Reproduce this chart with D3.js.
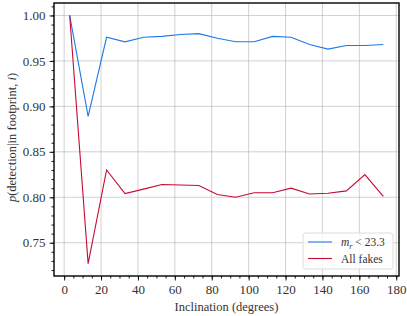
<!DOCTYPE html>
<html>
<head>
<meta charset="utf-8">
<script src="https://cdn.jsdelivr.net/npm/d3@7"></script>
<style>
  body { margin: 0; background: #fff; }
  #chart text, #chart tspan { font-family: "Liberation Serif", serif; }
</style>
</head>
<body>
<svg id="chart" width="407" height="316"></svg>
<script>
// inclination bins (degrees)
const inclination = [3, 13, 23, 33, 43, 53, 63, 73, 83, 93, 103, 113, 123, 133, 143, 153, 163, 173];

// m_r < 23.3
const brightFakes = [1.000, 0.889, 0.976, 0.971, 0.976, 0.977, 0.979, 0.980, 0.975, 0.971, 0.971, 0.977, 0.976, 0.968, 0.963, 0.967, 0.967, 0.968];

// all fakes
const allFakes = [1.000, 0.727, 0.830, 0.804, 0.809, 0.814, 0.8135, 0.813, 0.803, 0.800, 0.805, 0.805, 0.810, 0.8036, 0.8044, 0.807, 0.825, 0.801];

const xTicks = [0, 20, 40, 60, 80, 100, 120, 140, 160, 180];
const yTicks = [0.75, 0.80, 0.85, 0.90, 0.95, 1.00];

const margin = { top: 3, left: 54, right: 8, bottom: 40 };
const fullWidth = 407, fullHeight = 316;
const width = fullWidth - margin.left - margin.right;
const height = fullHeight - margin.top - margin.bottom;

const svg = d3.select("#chart");
const g = svg.append("g").attr("transform", `translate(${margin.left},${margin.top})`);

const x = d3.scaleLinear().domain([-5.5, 181.5]).range([0, width]);
const y = d3.scaleLinear().domain([0.7134, 1.0137]).range([height, 0]);

// grid
g.append("g").selectAll("line").data(xTicks.filter(t => x(t) < width))
  .join("line")
  .attr("x1", d => x(d)).attr("x2", d => x(d))
  .attr("y1", 0).attr("y2", height)
  .attr("stroke", "#b0b0b0").attr("stroke-opacity", 0.65).attr("stroke-width", 0.9);
g.append("g").selectAll("line").data(yTicks)
  .join("line")
  .attr("x1", 0).attr("x2", width)
  .attr("y1", d => y(d)).attr("y2", d => y(d))
  .attr("stroke", "#b0b0b0").attr("stroke-opacity", 0.65).attr("stroke-width", 0.9);

// lines
const line = (vals) => d3.line()
  .x((d, i) => x(inclination[i]))
  .y(d => y(d))(vals);

g.append("path").attr("d", line(brightFakes))
  .attr("fill", "none").attr("stroke", "#1f78e8").attr("stroke-width", 1.1);
g.append("path").attr("d", line(allFakes))
  .attr("fill", "none").attr("stroke", "#c80a32").attr("stroke-width", 1.1);

// axes, minor then major ticks
const xMinor = d3.range(0, 181, 5);
const yMinor = d3.range(72, 102, 1).map(v => v / 100).filter(v => y(v) >= 0 && y(v) <= height);

const xAxis = g.append("g").attr("transform", `translate(0,${height})`);
xAxis.call(d3.axisBottom(x).tickValues(xMinor).tickSize(2.5).tickFormat(""));
xAxis.append("g").call(d3.axisBottom(x).tickValues(xTicks).tickSize(4.5).tickPadding(4).tickFormat(d3.format("d")));

const yAxis = g.append("g");
yAxis.call(d3.axisLeft(y).tickValues(yMinor).tickSize(2.5).tickFormat(""));
yAxis.append("g").call(d3.axisLeft(y).tickValues(yTicks).tickSize(4.5).tickPadding(4).tickFormat(d3.format(".2f")));

g.selectAll(".domain").remove();
g.selectAll(".tick line").attr("stroke", "#000").attr("stroke-width", 0.9);
g.selectAll(".tick text").style("font-size", "13px").attr("fill", "#333");

// frame
g.append("rect").attr("x", 0).attr("y", 0).attr("width", width).attr("height", height)
  .attr("fill", "none").attr("stroke", "#000").attr("stroke-width", 1.4);

// axis labels
svg.append("text")
  .attr("x", margin.left + width / 2).attr("y", 311)
  .attr("text-anchor", "middle").style("font-size", "12.5px").attr("fill", "#333")
  .text("Inclination (degrees)");

const yl = svg.append("text")
  .attr("transform", `translate(16,${margin.top + height / 2 - 2}) rotate(-90)`)
  .attr("text-anchor", "middle").style("font-size", "12.5px").attr("fill", "#333");
yl.append("tspan").style("font-style", "italic").text("p");
yl.append("tspan").text("(detection|in footprint, ");
yl.append("tspan").style("font-style", "italic").text("i");
yl.append("tspan").text(")");

// legend
const leg = g.append("g").attr("transform", `translate(${width - 96},${height - 43})`);
leg.append("rect").attr("width", 90).attr("height", 36).attr("rx", 2.5)
  .attr("fill", "#fff").attr("fill-opacity", 0.8).attr("stroke", "#d8d8d8").attr("stroke-width", 0.9);
const items = [
  { color: "#1f78e8", label: "m" },
  { color: "#c80a32", label: "All fakes" }
];
items.forEach((it, i) => {
  const yy = 9 + i * 16.5;
  leg.append("line").attr("x1", 5).attr("x2", 29).attr("y1", yy).attr("y2", yy)
    .attr("stroke", it.color).attr("stroke-width", 1.1);
  const t = leg.append("text").attr("x", 38).attr("y", yy + 4)
    .style("font-size", "11.5px").attr("fill", "#333");
  if (i === 0) {
    t.append("tspan").style("font-style", "italic").text("m");
    t.append("tspan").style("font-style", "italic").style("font-size", "8px").attr("dy", 2.5).text("r");
    t.append("tspan").attr("dy", -2.5).text(" < 23.3");
  } else {
    t.text(it.label);
  }
});
</script>
</body>
</html>
